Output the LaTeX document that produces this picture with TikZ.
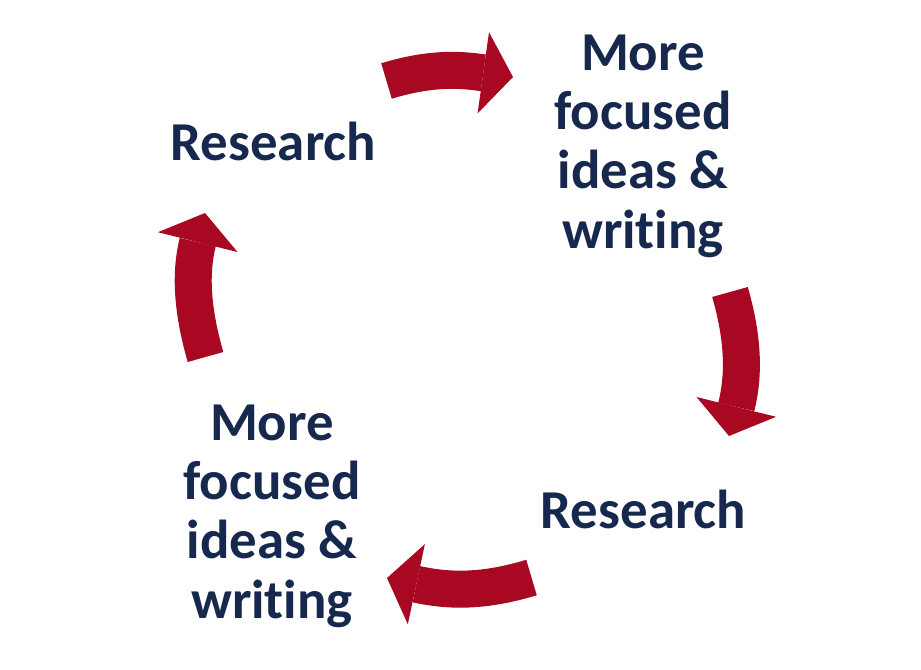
\documentclass[tikz,border=0pt]{standalone}
\usepackage{fontspec}
\setmainfont{Carlito}[Ligatures=NoCommon]
\usepackage{xcolor}
\usetikzlibrary{arrows.meta}
\definecolor{cyred}{RGB}{168,8,34}
\definecolor{cynavy}{RGB}{22,40,78}

\begin{document}
\begin{tikzpicture}[>={Triangle[width=0.82cm,length=0.3cm,line width=0pt 0]},
  cyarr/.style={->,line width=0.37cm,cyred},
  cytxt/.style={font=\bfseries\fontsize{15.6}{16.8}\selectfont,text=cynavy,align=center,anchor=base,inner sep=0pt}]
  \useasboundingbox (0,0) rectangle (9.21,6.69);
  % the four stages (base = last line)
  \node[cytxt] (res1) at (2.735,5.09) {Research};
  \node[cytxt] (foc1) at (6.43,4.21) {More\\focused\\ideas \&\\writing};
  \node[cytxt] (res2) at (6.435,1.41) {Research};
  \node[cytxt] (foc2) at (2.72,0.51) {More\\focused\\ideas \&\\writing};
  % arrow ends
  \coordinate (t1) at (3.865,5.88); \coordinate (h1) at (5.13,5.92);
  \coordinate (t2) at (7.30,3.77);  \coordinate (h2) at (7.29,2.33);
  \coordinate (t3) at (5.315,0.915); \coordinate (h3) at (3.87,0.91);
  \coordinate (t4) at (2.055,3.12); \coordinate (h4) at (2.05,4.56);
  \draw[cyarr] (t1) to[out=17,in=172] (h1);
  \draw[cyarr] (t2) to[out=-74,in=76] (h2);
  \draw[cyarr] (t3) to[out=197,in=-12] (h3);
  \draw[cyarr] (t4) to[out=106,in=-104] (h4);
\end{tikzpicture}
\end{document}
